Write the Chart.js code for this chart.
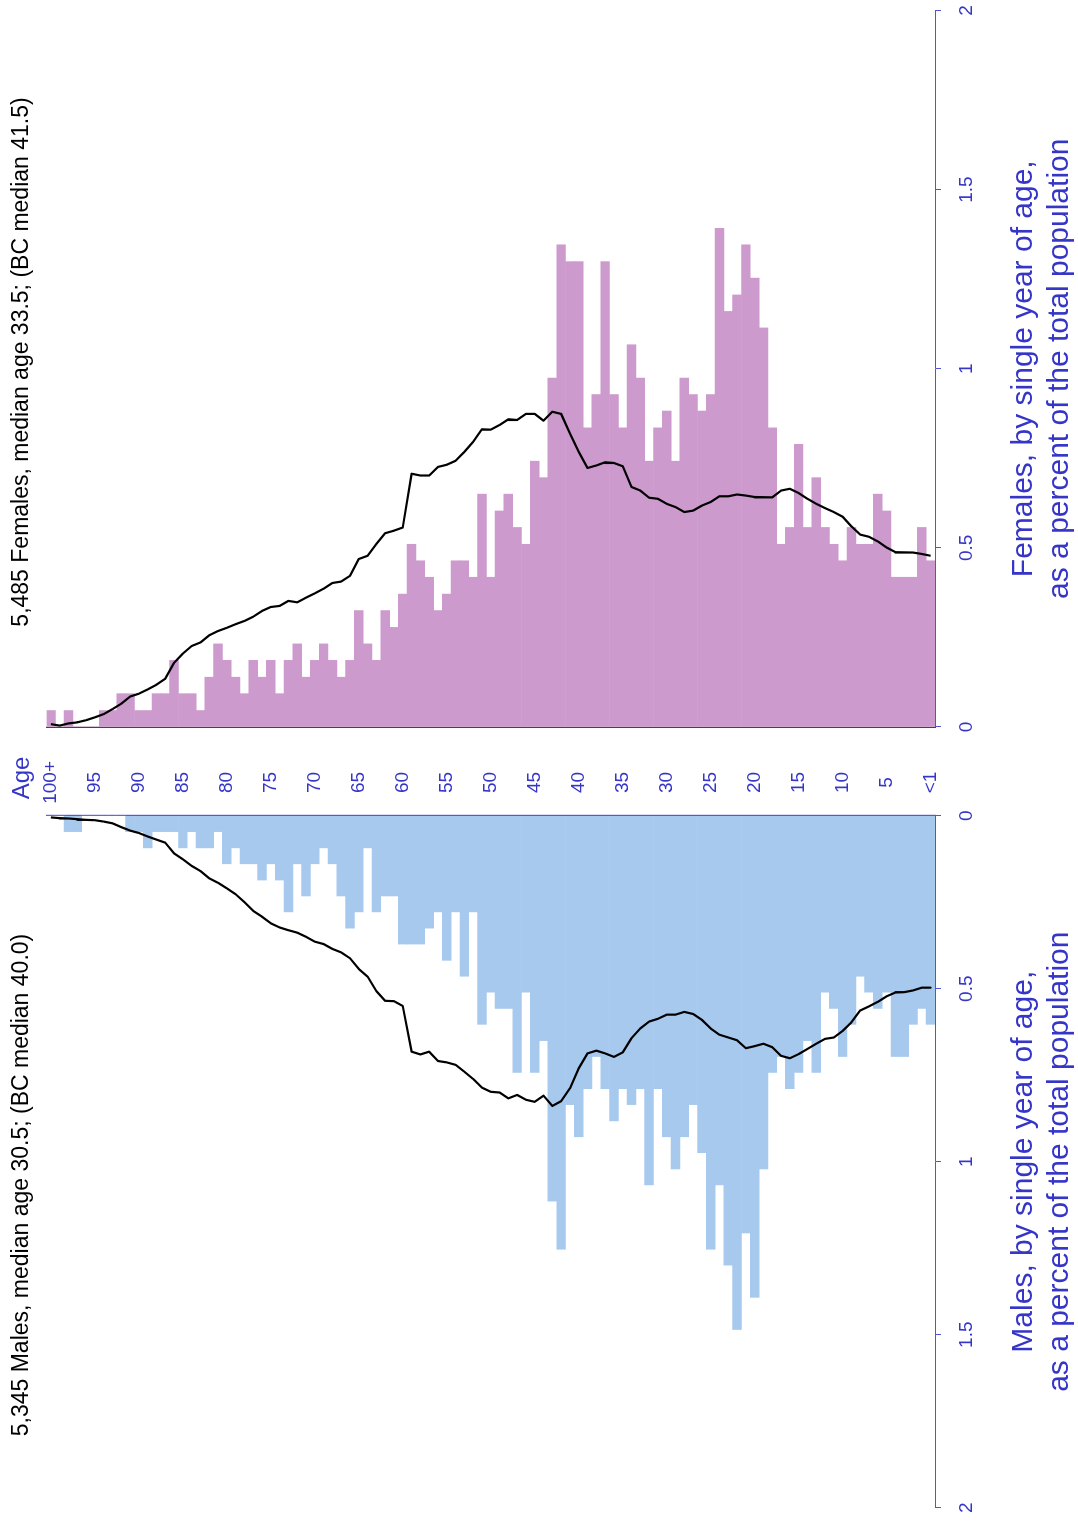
<!DOCTYPE html>
<html>
<head>
<meta charset="utf-8">
<script src="https://cdn.jsdelivr.net/npm/chart.js@4.4.1/dist/chart.umd.min.js"></script>
<style>
  html, body { margin: 0; padding: 0; background: #fff; }
  body { width: 1078px; height: 1522px; overflow: hidden; position: relative; font-family: "Liberation Sans", Arial, sans-serif; }
  /* the pyramid is laid out upright, then turned a quarter counter-clockwise */
  #page { position: absolute; left: 0; top: 0; width: 1522px; height: 1078px; transform-origin: 0 0; transform: translateY(1522px) rotate(-90deg); }
  canvas { position: absolute; top: 0; }
  #maleCanvas { left: 0; }
  #femaleCanvas { left: 700px; }
  .note { position: absolute; white-space: nowrap; transform: translate(-50%, -50%); }
  #femaleNote { left: 1160px; top: 20px; font-size: 23px; color: #000; }
  #maleNote { left: 337px; top: 20px; font-size: 23px; color: #000; }
  #ageNote { left: 744px; top: 21px; font-size: 24px; color: #3535c8; }
</style>
</head>
<body>
<div id="page">
  <canvas id="maleCanvas" width="716" height="1078"></canvas>
  <canvas id="femaleCanvas" width="822" height="1078"></canvas>
  <div class="note" id="femaleNote">5,485 Females, median age 33.5; (BC median 41.5)</div>
  <div class="note" id="maleNote">5,345 Males, median age 30.5; (BC median 40.0)</div>
  <div class="note" id="ageNote">Age</div>
</div>
<script>
const ageLabels = ['100+',
  '99','98','97','96','95','94','93','92','91','90',
  '89','88','87','86','85','84','83','82','81','80',
  '79','78','77','76','75','74','73','72','71','70',
  '69','68','67','66','65','64','63','62','61','60',
  '59','58','57','56','55','54','53','52','51','50',
  '49','48','47','46','45','44','43','42','41','40',
  '39','38','37','36','35','34','33','32','31','30',
  '29','28','27','26','25','24','23','22','21','20',
  '19','18','17','16','15','14','13','12','11','10',
  '9','8','7','6','5','4','3','2','1','<1'];

// percent of total population, oldest first
const femaleShare = [0.046,
  0, 0.046, 0, 0, 0, 0.046, 0.046, 0.093, 0.093, 0.046,
  0.046, 0.093, 0.093, 0.186, 0.093, 0.093, 0.046, 0.139, 0.232, 0.186,
  0.139, 0.093, 0.186, 0.139, 0.186, 0.093, 0.186, 0.232, 0.139, 0.186,
  0.232, 0.186, 0.139, 0.186, 0.325, 0.232, 0.186, 0.325, 0.278, 0.371,
  0.510, 0.464, 0.418, 0.325, 0.371, 0.464, 0.464, 0.418, 0.650, 0.418,
  0.603, 0.650, 0.557, 0.510, 0.742, 0.696, 0.974, 1.346, 1.299, 1.299,
  0.835, 0.928, 1.299, 0.928, 0.835, 1.067, 0.974, 0.742, 0.835, 0.882,
  0.742, 0.974, 0.928, 0.882, 0.928, 1.392, 1.160, 1.206, 1.346, 1.253,
  1.114, 0.835, 0.510, 0.557, 0.789, 0.557, 0.696, 0.557, 0.510, 0.464,
  0.557, 0.510, 0.510, 0.650, 0.603, 0.418, 0.418, 0.418, 0.557, 0.464];

const maleShare = [0,
  0, 0.046, 0.046, 0, 0, 0, 0, 0, 0.046, 0.046,
  0.093, 0.046, 0.046, 0.046, 0.093, 0.046, 0.093, 0.093, 0.046, 0.139,
  0.093, 0.139, 0.139, 0.186, 0.139, 0.186, 0.278, 0.139, 0.232, 0.139,
  0.093, 0.139, 0.232, 0.325, 0.278, 0.093, 0.278, 0.232, 0.232, 0.371,
  0.371, 0.371, 0.325, 0.278, 0.418, 0.278, 0.464, 0.278, 0.603, 0.510,
  0.557, 0.557, 0.742, 0.510, 0.742, 0.650, 1.114, 1.253, 0.835, 0.928,
  0.789, 0.696, 0.789, 0.882, 0.789, 0.835, 0.789, 1.067, 0.789, 0.928,
  1.021, 0.928, 0.835, 0.974, 1.253, 1.067, 1.299, 1.485, 1.206, 1.392,
  1.021, 0.742, 0.696, 0.789, 0.742, 0.650, 0.742, 0.510, 0.557, 0.696,
  0.603, 0.464, 0.510, 0.557, 0.510, 0.696, 0.696, 0.603, 0.557, 0.603];

// BC comparison profile (black lines)
const bcFemaleShare = [0.008,
  0.004, 0.010, 0.013, 0.019, 0.027, 0.036, 0.050, 0.065, 0.085, 0.093,
  0.105, 0.118, 0.135, 0.179, 0.205, 0.226, 0.236, 0.256, 0.268, 0.277,
  0.287, 0.296, 0.308, 0.324, 0.335, 0.338, 0.352, 0.348, 0.361, 0.373,
  0.386, 0.402, 0.406, 0.422, 0.469, 0.478, 0.511, 0.541, 0.548, 0.557,
  0.707, 0.702, 0.702, 0.726, 0.732, 0.743, 0.768, 0.796, 0.831, 0.830,
  0.843, 0.859, 0.857, 0.874, 0.874, 0.855, 0.880, 0.874, 0.819, 0.768,
  0.723, 0.730, 0.739, 0.737, 0.728, 0.670, 0.660, 0.640, 0.637, 0.623,
  0.614, 0.600, 0.604, 0.618, 0.628, 0.644, 0.644, 0.649, 0.646, 0.642,
  0.642, 0.640, 0.660, 0.665, 0.653, 0.637, 0.623, 0.611, 0.600, 0.587,
  0.560, 0.537, 0.531, 0.518, 0.501, 0.488, 0.487, 0.487, 0.483, 0.478];

const bcMaleShare = [0.005,
  0.007, 0.008, 0.010, 0.012, 0.013, 0.017, 0.022, 0.033, 0.043, 0.050,
  0.060, 0.069, 0.078, 0.109, 0.126, 0.145, 0.160, 0.181, 0.194, 0.210,
  0.227, 0.250, 0.275, 0.292, 0.311, 0.323, 0.331, 0.338, 0.350, 0.364,
  0.371, 0.385, 0.395, 0.412, 0.443, 0.465, 0.507, 0.535, 0.536, 0.550,
  0.682, 0.690, 0.682, 0.709, 0.713, 0.720, 0.740, 0.761, 0.786, 0.798,
  0.800, 0.817, 0.807, 0.821, 0.827, 0.809, 0.839, 0.825, 0.788, 0.730,
  0.687, 0.679, 0.687, 0.697, 0.684, 0.643, 0.615, 0.595, 0.587, 0.575,
  0.575, 0.567, 0.573, 0.590, 0.615, 0.633, 0.641, 0.649, 0.672, 0.666,
  0.659, 0.669, 0.694, 0.701, 0.689, 0.674, 0.659, 0.645, 0.641, 0.622,
  0.597, 0.563, 0.551, 0.538, 0.522, 0.511, 0.510, 0.505, 0.497, 0.497];

const femaleTitle = ['Females, by single year of age,', 'as a percent of the total population'];
const maleTitle = ['Males, by single year of age,', 'as a percent of the total population'];

const TEXT_BLUE = '#3535c8';
const AXIS_BLUE = '#5252dc';

Chart.defaults.font.family = '"Liberation Sans", Arial, sans-serif';

function valueAxis(title, reverse) {
  return {
    type: 'linear',
    min: 0,
    max: 2,
    reverse: reverse,
    grid: { drawOnChartArea: false, tickLength: 6, color: AXIS_BLUE },
    border: { color: AXIS_BLUE, width: 1 },
    ticks: { stepSize: 0.5, color: TEXT_BLUE, font: { size: 19 }, padding: 14, maxRotation: 0,
             callback: (v) => String(v) },
    title: { display: true, text: title, color: TEXT_BLUE, font: { size: 30 }, padding: 0 },
    afterFit(scale) {
      scale.height = 143;
      // keep the plot width set by layout padding only
      scale.paddingLeft = 0;
      scale.paddingRight = 0;
    }
  };
}

function datasets(bars, line, colour) {
  return [
    { type: 'line', data: line, borderColor: '#000', borderWidth: 2.2, pointRadius: 0,
      tension: 0, borderJoinStyle: 'round', order: 0 },
    { type: 'bar', data: bars, backgroundColor: colour, borderWidth: 0,
      barPercentage: 1, categoryPercentage: 1, order: 1 }
  ];
}

const common = {
  indexAxis: 'y',
  responsive: false,
  animation: false,
  devicePixelRatio: 1,
  plugins: { legend: { display: false }, tooltip: { enabled: false } }
};

// males: bars grow to the left
new Chart(document.getElementById('maleCanvas'), {
  data: { labels: ageLabels, datasets: datasets(maleShare, bcMaleShare, '#a7c9ee') },
  options: {
    ...common,
    layout: { padding: { top: 46.5, right: 9.7, bottom: 0, left: 14.3 } },
    scales: {
      x: valueAxis(maleTitle, true),
      y: { position: 'right', grid: { display: false, drawTicks: false }, ticks: { display: false },
           border: { color: AXIS_BLUE, width: 1.2 } }
    }
  }
});

// females: bars grow to the right, ages shown in the gap
new Chart(document.getElementById('femaleCanvas'), {
  data: { labels: ageLabels, datasets: datasets(femaleShare, bcFemaleShare, '#cc9acc') },
  options: {
    ...common,
    layout: { padding: { top: 46.5, right: 10.5, bottom: 0, left: 0 } },
    scales: {
      x: valueAxis(femaleTitle, false),
      y: {
        position: 'left',
        grid: { display: false },
        border: { color: '#4a3f4a', width: 1.2 },
        ticks: {
          autoSkip: false, color: TEXT_BLUE, font: { size: 19 }, padding: 26, crossAlign: 'center',
          callback(v, i) { return i % 5 === 0 ? this.getLabelForValue(v) : ''; }
        },
        afterFit(scale) { scale.width = 95; }
      }
    }
  }
});
</script>
</body>
</html>
